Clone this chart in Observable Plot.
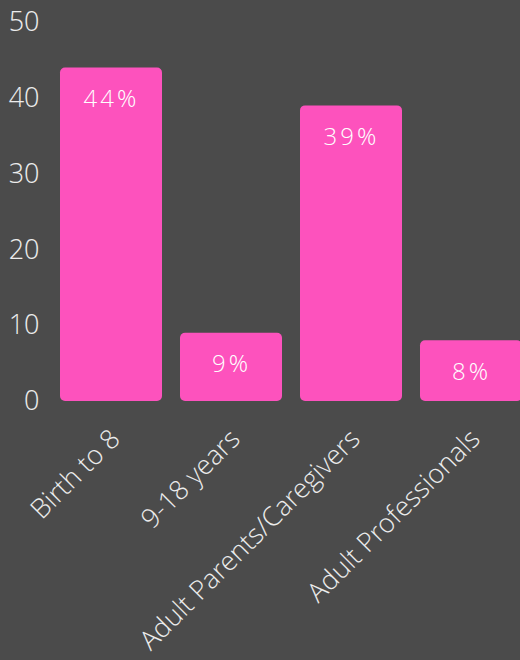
<!DOCTYPE html>
<html>
<head>
<meta charset="utf-8">
<script src="https://cdn.jsdelivr.net/npm/d3@7"></script>
<script src="https://cdn.jsdelivr.net/npm/@observablehq/plot@0.6"></script>
<style>
  html, body { margin: 0; padding: 0; background: #4b4b4b; }
  #chart svg { display: block; }
  .vlabel text { letter-spacing: 3px; }
</style>
</head>
<body>
<div id="chart"></div>
<script>
const categories = ["Birth to 8", "9-18 years", "Adult Parents/Caregivers", "Adult Professionals"];
const values = [44, 9, 39, 8];
const valueLabels = ["44%", "9%", "39%", "8%"];
const yTicks = [0, 10, 20, 30, 40, 50];

const data = categories.map((c, i) => ({category: c, value: values[i], label: valueLabels[i]}));

const chart = Plot.plot({
  width: 520,
  height: 660,
  marginTop: 22,
  marginBottom: 259,
  marginLeft: 51,
  marginRight: 0,
  style: {
    background: "#4b4b4b",
    color: "#ececec",
    fontFamily: "'Open Sans Light', 'Open Sans', sans-serif",
    fontWeight: 300,
    overflow: "hidden"
  },
  x: {
    domain: categories,
    range: [51, 531],
    paddingInner: 0.15,
    paddingOuter: 0.075,
    label: null
  },
  y: {
    domain: [0, 50],
    label: null
  },
  marks: [
    Plot.barY(data, {x: "category", y: "value", fill: "#fd52bd", rx: 5}),
    Plot.text(data, {x: "category", y: "value", text: "label", dy: 31, fill: "#ffffff",
      fontSize: 24, fontWeight: 400, className: "vlabel"}),
    Plot.axisY({ticks: yTicks, tickSize: 0, tickPadding: 12, fontSize: 27, label: null}),
    Plot.axisX({tickSize: 0, tickRotate: -45, tickPadding: 8, dx: 4, dy: 25, fontSize: 27, label: null})
  ]
});
document.getElementById("chart").appendChild(chart);
</script>
</body>
</html>
